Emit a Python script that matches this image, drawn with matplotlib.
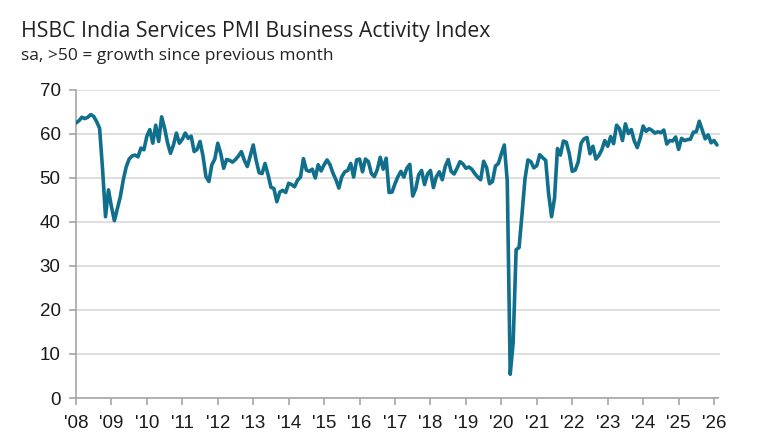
import numpy as np
import matplotlib
matplotlib.use("Agg")
import matplotlib.pyplot as plt

# HSBC India Services PMI, Business Activity Index (monthly, sa), Jan 2008 onwards
pmi_2008 = [62.5, 63.0, 63.8, 63.5, 63.8, 64.4, 64.0, 62.8, 61.3, 52.0, 41.2, 47.3]
pmi_2009 = [43.5, 40.3, 43.0, 45.7, 49.5, 52.5, 54.3, 55.0, 55.2, 54.8, 56.8, 56.4]
pmi_2010 = [59.5, 61.0, 57.9, 62.0, 58.3, 63.9, 61.3, 58.0, 55.6, 57.5, 60.2, 57.9]
pmi_2011 = [58.8, 60.2, 59.0, 59.5, 56.0, 56.5, 58.3, 55.0, 50.3, 49.2, 53.0, 54.3]
pmi_2012 = [57.9, 55.6, 52.2, 54.2, 54.0, 53.6, 54.2, 55.0, 56.0, 54.0, 52.6, 55.0]
pmi_2013 = [57.5, 54.0, 51.2, 51.0, 53.3, 50.8, 47.9, 47.6, 44.6, 46.8, 47.2, 46.7]
pmi_2014 = [48.8, 48.5, 48.0, 49.5, 50.2, 54.4, 51.8, 51.5, 52.0, 50.0, 53.0, 51.6]
pmi_2015 = [53.0, 54.1, 53.0, 51.1, 49.6, 47.7, 50.3, 51.4, 51.7, 53.3, 50.2, 54.1]
pmi_2016 = [54.3, 51.4, 54.3, 53.7, 51.0, 50.3, 51.9, 54.7, 52.0, 54.5, 46.7, 46.8]
pmi_2017 = [48.7, 50.3, 51.5, 50.2, 52.2, 53.1, 45.9, 47.5, 50.7, 51.7, 48.5, 50.9]
pmi_2018 = [51.7, 47.8, 50.3, 51.4, 49.6, 52.6, 54.2, 51.5, 50.9, 52.2, 53.7, 53.2]
pmi_2019 = [52.2, 52.5, 52.0, 51.0, 50.2, 49.6, 53.8, 52.4, 48.7, 49.2, 52.7, 53.3]
pmi_2020 = [55.5, 57.5, 49.3, 5.4, 12.6, 33.7, 34.2, 41.8, 49.8, 54.1, 53.7, 52.3]
pmi_2021 = [52.8, 55.3, 54.6, 54.0, 46.4, 41.2, 45.4, 56.7, 55.2, 58.4, 58.1, 55.5]
pmi_2022 = [51.5, 51.8, 53.6, 57.9, 58.9, 59.2, 55.5, 57.2, 54.3, 55.1, 56.4, 58.5]
pmi_2023 = [57.2, 59.4, 57.8, 62.0, 61.2, 58.5, 62.3, 60.1, 61.0, 58.4, 56.9, 59.0]
pmi_2024 = [61.8, 60.6, 61.2, 60.8, 60.2, 60.5, 60.3, 60.9, 57.7, 58.5, 58.4, 59.3]
pmi_2025 = [56.5, 59.0, 58.5, 58.7, 58.8, 60.4, 60.5, 62.9, 60.9, 58.9, 59.8, 58.0]
pmi_2026 = [58.5, 57.5]

values = (pmi_2008 + pmi_2009 + pmi_2010 + pmi_2011 + pmi_2012 + pmi_2013
          + pmi_2014 + pmi_2015 + pmi_2016 + pmi_2017 + pmi_2018 + pmi_2019
          + pmi_2020 + pmi_2021 + pmi_2022 + pmi_2023 + pmi_2024 + pmi_2025
          + pmi_2026)
dates = 2008 + np.arange(len(values)) / 12.0

years = list(range(2008, 2027))
year_labels = ["'" + str(y)[2:] for y in years]
y_ticks = [0, 10, 20, 30, 40, 50, 60, 70]

line_color = "#106f8c"
grid_color = "#d9d9d9"
axis_color = "#a6a6a6"

fig = plt.figure(figsize=(7.84, 4.41), dpi=100)
ax = fig.add_axes([0.0969, 0.0975, 0.8214, 0.6985])

ax.plot(dates, values, color=line_color, linewidth=2.6, solid_joinstyle="round",
        solid_capstyle="round", zorder=3)

ax.set_xlim(2008, 2026 + 2 / 12)
ax.set_ylim(0, 70)
ax.set_xticks(years)
ax.set_xticklabels(year_labels)
ax.set_yticks(y_ticks)

ax.grid(axis="y", color=grid_color, linewidth=1.2)
ax.set_axisbelow(True)
for s in ["top", "right"]:
    ax.spines[s].set_visible(False)
for s in ["left", "bottom"]:
    ax.spines[s].set_color(axis_color)
    ax.spines[s].set_linewidth(1.2)
ax.spines["bottom"].set_bounds(2008, 2026 + 0.1)

ax.tick_params(axis="both", colors=axis_color, width=1.2, length=5,
               labelcolor="#1a1a1a", labelsize=13.5)
ax.tick_params(axis="y", pad=6)
ax.tick_params(axis="x", pad=7)
for lab in ax.get_xticklabels() + ax.get_yticklabels():
    lab.set_fontfamily("Liberation Sans")

fig.text(0.027, 0.916, "HSBC India Services PMI Business Activity Index",
         fontsize=15.3, family="Open Sans", color="#222222", ha="left", va="baseline")
fig.text(0.027, 0.864, "sa, >50 = growth since previous month",
         fontsize=12.5, family="Open Sans", color="#222222", ha="left", va="baseline")

fig.savefig("out.png", dpi=100)
